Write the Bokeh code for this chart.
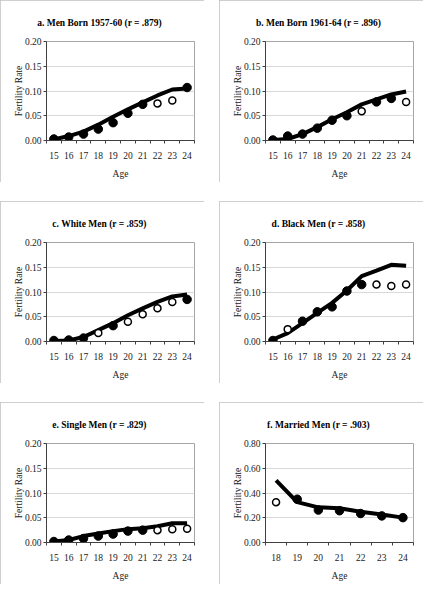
from bokeh.plotting import figure
from bokeh.layouts import column, row
from bokeh.models import Range1d, FixedTicker, NumeralTickFormatter
from bokeh.embed import file_html
from bokeh.resources import INLINE

# ---- data ----
AGES = [15, 16, 17, 18, 19, 20, 21, 22, 23, 24]
MARRIED_AGES = [18, 19, 20, 21, 22, 23, 24]
Y_TICKS = [0.0, 0.05, 0.10, 0.15, 0.20]
F_Y_TICKS = [0.0, 0.20, 0.40, 0.60, 0.80]

TITLES = [
    "a. Men Born 1957-60 (r = .879)",
    "b. Men Born 1961-64 (r = .896)",
    "c. White Men (r = .859)",
    "d. Black Men (r = .858)",
    "e. Single Men (r = .829)",
    "f. Married Men (r = .903)",
]

a_pred = [0.002, 0.009, 0.018, 0.032, 0.048, 0.063, 0.077, 0.091, 0.103, 0.105]
a_obs = [0.003, 0.007, 0.013, 0.023, 0.036, 0.055, 0.073, 0.075, 0.081, 0.107]
a_open = [22, 23]

b_pred = [0.001, 0.003, 0.013, 0.027, 0.043, 0.057, 0.073, 0.083, 0.093, 0.099]
b_obs = [0.001, 0.009, 0.013, 0.025, 0.041, 0.050, 0.059, 0.078, 0.085, 0.078]
b_open = [21, 24]

c_pred = [0.001, 0.002, 0.009, 0.023, 0.037, 0.053, 0.067, 0.080, 0.091, 0.095]
c_obs = [0.002, 0.003, 0.007, 0.017, 0.032, 0.040, 0.055, 0.067, 0.080, 0.085]
c_open = [18, 20, 21, 22, 23]

d_pred = [0.004, 0.017, 0.037, 0.058, 0.078, 0.103, 0.132, 0.143, 0.155, 0.153]
d_obs = [0.002, 0.025, 0.041, 0.060, 0.070, 0.102, 0.115, 0.115, 0.112, 0.115]
d_open = [16, 22, 23, 24]

e_pred = [0.002, 0.005, 0.013, 0.018, 0.023, 0.027, 0.029, 0.033, 0.039, 0.039]
e_obs = [0.002, 0.005, 0.008, 0.013, 0.017, 0.023, 0.025, 0.025, 0.027, 0.028]
e_open = [22, 23, 24]

f_pred = [0.502, 0.326, 0.284, 0.276, 0.248, 0.226, 0.201]
f_obs = [0.326, 0.350, 0.262, 0.257, 0.234, 0.215, 0.201]
f_open = [18]

# ---- layout constants ----
W, H = 204, 182
BL, BR, BT, BB = 46, 10, 41, 42
FONT = "Liberation Serif"
TITLE_PX = 9.5

# approximate Times-Bold advance widths (per 1000 em) for centring titles
_BOLD_W = {" ": 250, ".": 250, "(": 333, ")": 333, "-": 333, "=": 570,
           "W": 1000, "M": 944, "B": 667, "S": 556,
           "a": 500, "b": 556, "c": 444, "d": 556, "e": 444, "f": 333,
           "g": 500, "h": 556, "i": 278, "k": 556, "l": 278, "n": 556,
           "o": 500, "r": 444, "t": 333}


def text_width(s, px):
    return sum(_BOLD_W.get(ch, 500) for ch in s) / 1000.0 * px


def make_panel(title, ages, pred, obs, open_ages, yticks):
    p = figure(width=W, height=H, output_backend="svg", toolbar_location=None,
               x_range=Range1d(ages[0] - 0.5, ages[-1] + 0.5),
               y_range=Range1d(yticks[0], yticks[-1]),
               min_border_left=BL, min_border_right=BR,
               min_border_top=BT, min_border_bottom=BB,
               background_fill_color="white", border_fill_color="white")
    p.styles = {"outline": "1px solid #bfbfbf", "outline-offset": "-1px"}
    p.outline_line_color = "#a6a6a6"
    p.outline_line_width = 1

    # title, centred slightly left of the panel centre
    p.title.text = title
    p.title.align = "left"
    p.title.offset = (W / 2 - 3) - BL - text_width(title, TITLE_PX) / 2
    p.title.text_font = FONT
    p.title.text_font_size = f"{TITLE_PX}px"
    p.title.text_font_style = "bold"
    p.title.text_color = "black"
    p.title.standoff = 27

    p.xgrid.visible = False
    p.ygrid.ticker = FixedTicker(ticks=yticks)
    p.ygrid.grid_line_color = "#d9d9d9"
    p.ygrid.grid_line_width = 1

    xa = p.xaxis[0]
    xa.ticker = FixedTicker(ticks=ages,
                            minor_ticks=[a - 0.5 for a in ages] + [ages[-1] + 0.5])
    xa.major_tick_in = 0
    xa.major_tick_out = 0
    xa.minor_tick_in = 0
    xa.minor_tick_out = 3
    xa.minor_tick_line_color = "#404040"
    xa.axis_line_color = "#404040"
    xa.major_label_standoff = 8
    xa.axis_label = "Age"
    xa.axis_label_standoff = 7

    ya = p.yaxis[0]
    ya.ticker = FixedTicker(ticks=yticks)
    ya.formatter = NumeralTickFormatter(format="0.00")
    ya.major_tick_in = 0
    ya.major_tick_out = 3
    ya.minor_tick_line_color = None
    ya.axis_line_color = "#404040"
    ya.major_tick_line_color = "#404040"
    ya.major_label_standoff = 2
    ya.axis_label = "Fertility Rate"
    ya.axis_label_standoff = -2

    for ax in (xa, ya):
        ax.major_label_text_font = FONT
        ax.major_label_text_font_size = "9.5px"
        ax.major_label_text_color = "#222222"
        ax.axis_label_text_font = FONT
        ax.axis_label_text_font_size = "9.5px"
        ax.axis_label_text_font_style = "normal"
        ax.axis_label_text_color = "#222222"

    p.line(ages, pred, line_width=4, line_color="black", line_join="round")

    fx = [a for a, v in zip(ages, obs) if a not in open_ages]
    fy = [v for a, v in zip(ages, obs) if a not in open_ages]
    ox = [a for a, v in zip(ages, obs) if a in open_ages]
    oy = [v for a, v in zip(ages, obs) if a in open_ages]
    p.scatter(fx, fy, size=8.5, fill_color="black", line_color="black")
    p.scatter(ox, oy, size=7, fill_color="white", line_color="black", line_width=1.5)
    return p


pa = make_panel(TITLES[0], AGES, a_pred, a_obs, a_open, Y_TICKS)
pb = make_panel(TITLES[1], AGES, b_pred, b_obs, b_open, Y_TICKS)
pc = make_panel(TITLES[2], AGES, c_pred, c_obs, c_open, Y_TICKS)
pd = make_panel(TITLES[3], AGES, d_pred, d_obs, d_open, Y_TICKS)
pe = make_panel(TITLES[4], AGES, e_pred, e_obs, e_open, Y_TICKS)
pf = make_panel(TITLES[5], MARRIED_AGES, f_pred, f_obs, f_open, F_Y_TICKS)

layout = column(row(pa, pb, spacing=15),
                row(pc, pd, spacing=15),
                row(pe, pf, spacing=15), spacing=19)

open("out.html", "w").write(file_html(layout, INLINE, "Fertility Rates"))
